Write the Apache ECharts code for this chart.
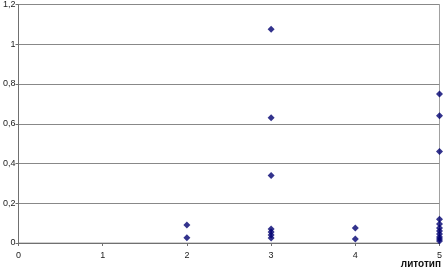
<!DOCTYPE html>
<html><head><meta charset="utf-8">
<script src="https://cdn.jsdelivr.net/npm/echarts@6/dist/echarts.min.js"></script>
<style>html,body{margin:0;padding:0;background:#fff}#c{width:445px;height:271px}</style>
</head><body><div id="c"></div>
<script>
const xName = 'литотип';
const yTicks = [0, 0.2, 0.4, 0.6, 0.8, 1, 1.2];
const xTicks = [0, 1, 2, 3, 4, 5];
const lithotype = [2, 2, 3, 3, 3, 3, 3, 3, 3, 4, 4, 5, 5, 5, 5, 5, 5, 5, 5, 5, 5, 5];
const values = [0.09, 0.027, 1.075, 0.63, 0.34, 0.07, 0.055, 0.04, 0.025, 0.075, 0.02, 0.75, 0.64, 0.46, 0.12, 0.095, 0.075, 0.06, 0.045, 0.03, 0.02, 0.01];

const chart = echarts.init(document.getElementById('c'));
const pts = lithotype.map((x, i) => [x, values[i]]);
const lblFont = {fontFamily: 'Liberation Sans, Arial, sans-serif', fontSize: 9, color: '#222'};
chart.setOption({
  animation: false,
  grid: {left: 17, right: 4, top: 3, bottom: 28, show: true, borderColor: '#a0a0a0', borderWidth: 1},
  xAxis: {
    type: 'value', min: xTicks[0], max: xTicks[xTicks.length - 1], interval: 1,
    axisLine: {show: true, onZero: false, lineStyle: {color: '#707070'}},
    axisTick: {show: true, length: 3, lineStyle: {color: '#707070'}},
    axisLabel: Object.assign({margin: 8}, lblFont),
    splitLine: {show: false}
  },
  yAxis: {
    type: 'value', min: yTicks[0], max: yTicks[yTicks.length - 1], interval: 0.2,
    axisLine: {show: true, lineStyle: {color: '#707070'}},
    axisTick: {show: true, length: 3, lineStyle: {color: '#707070'}},
    axisLabel: Object.assign({margin: 3, formatter: v => String(+v.toFixed(1)).replace('.', ',')}, lblFont),
    splitLine: {show: true, lineStyle: {color: '#888888', width: 1}}
  },
  graphic: [{
    type: 'text', right: 4, top: 259,
    style: {text: xName, fontFamily: 'Liberation Sans, Arial, sans-serif', fontSize: 10, fontWeight: 'bold', fill: '#111'}
  }],
  series: [{
    type: 'scatter', data: pts, symbol: 'diamond', symbolSize: 7,
    itemStyle: {color: '#000070'}
  }]
});
</script></body></html>
